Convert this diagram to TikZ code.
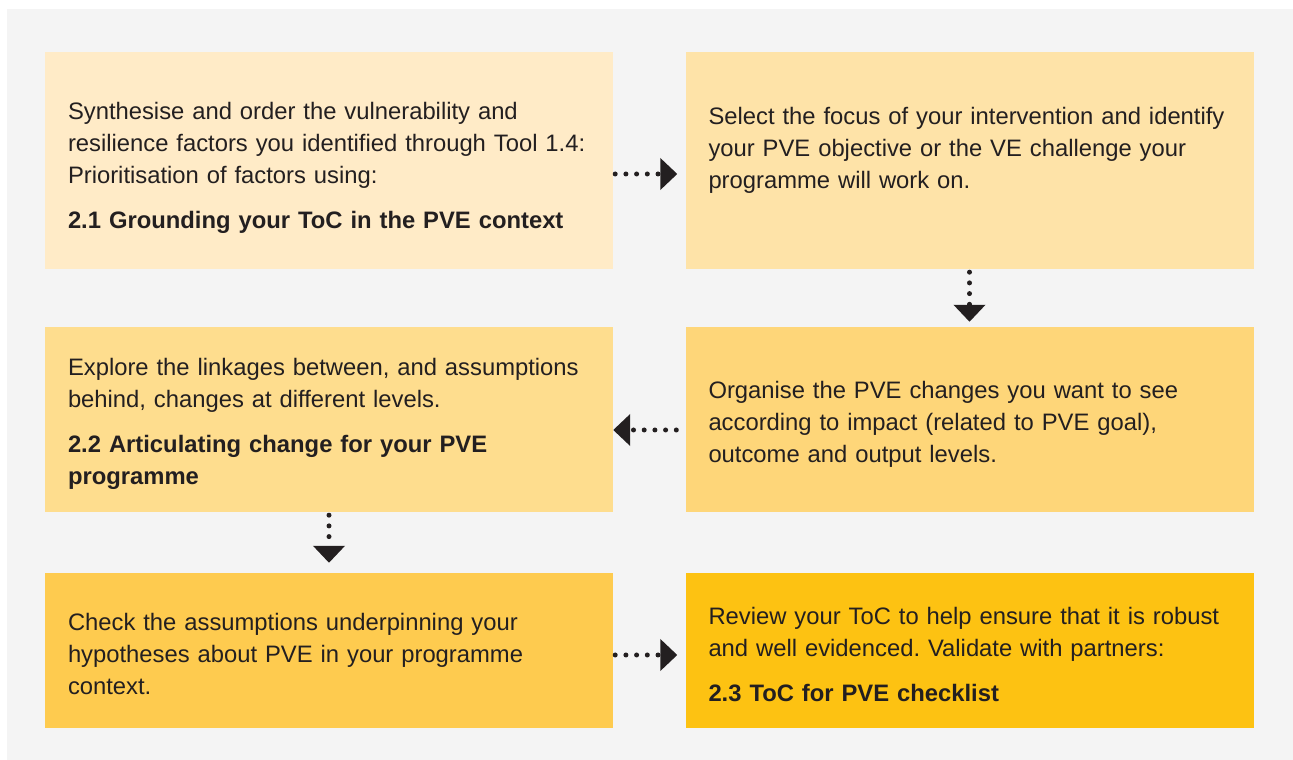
\documentclass[tikz,border=0pt]{standalone}
\usepackage{fontspec}
\setmainfont{Liberation Sans}
\frenchspacing
\usetikzlibrary{arrows.meta}
\definecolor{bggray}{HTML}{F4F4F4}
\definecolor{ink}{HTML}{231F20}
\definecolor{stepA}{HTML}{FFEBC7}
\definecolor{stepB}{HTML}{FEE3A8}
\definecolor{stepC}{HTML}{FEDD8E}
\definecolor{stepD}{HTML}{FED679}
\definecolor{stepE}{HTML}{FECB4F}
\definecolor{stepF}{HTML}{FDC212}
\begin{document}
\begin{tikzpicture}[x=1pt, y=1pt,
		stepbox/.style={rectangle, inner xsep=23pt, inner ysep=0pt, minimum width=568pt, text width=522pt, align=left, text=ink, font=\fontsize{23.8}{32}\selectfont},
		flow/.style={ink, line width=5pt, line cap=round, dash pattern=on 0pt off 10.7pt, -{Triangle[width=31pt, length=17pt]}}]
	\useasboundingbox (0,0) rectangle (1293,760);
	\fill[bggray] (7,0) rectangle (1293,751);
	\node[stepbox, fill=stepA, minimum height=217pt] (grounding) at (329,599.5) {\mbox{}\\[1pt]Synthesise and order the vulnerability and\\ resilience factors you identified through Tool 1.4:\\ Prioritisation of factors using:\\[13pt] \textbf{2.1 Grounding your ToC in the PVE context}};
	\node[stepbox, fill=stepB, minimum height=217pt] (focus) at (969.5,599.5) {Select the focus of your intervention and identify\\ your PVE objective or the VE challenge your\\ programme will work on.\\[-7pt]\mbox{}};
	\node[stepbox, fill=stepC, minimum height=185pt] (linkages) at (329,340.5) {\mbox{}\\[-5pt]Explore the linkages between, and assumptions\\ behind, changes at different levels.\\[13pt] \textbf{2.2 Articulating change for your PVE}\\ \textbf{programme}};
	\node[stepbox, fill=stepD, minimum height=185pt] (organise) at (969.5,340.5) {\mbox{}\\[-5pt]Organise the PVE changes you want to see\\ according to impact (related to PVE goal),\\ outcome and output levels.};
	\node[stepbox, fill=stepE, minimum height=155pt] (assume) at (329,109.5) {\mbox{}\\[-7pt]Check the assumptions underpinning your\\ hypotheses about PVE in your programme\\ context.};
	\node[stepbox, fill=stepF, minimum height=155pt] (review) at (969.5,109.5) {\mbox{}\\[-7pt]Review your ToC to help ensure that it is robust\\ and well evidenced. Validate with partners:\\[13pt] \textbf{2.3 ToC for PVE checklist}};
	% dotted arrows between the steps
	\draw[flow, shorten <=2pt, shorten >=8pt] ([yshift=-13.5pt]grounding.east) -- ([yshift=-13.5pt]focus.west);
	\draw[flow, shorten <=3pt, shorten >=5pt] (focus.south) -- (organise.north);
	\draw[flow, shorten <=9pt] ([yshift=-10.5pt]organise.west) -- ([yshift=-10.5pt]linkages.east);
	\draw[flow, shorten <=3pt, shorten >=10pt] (linkages.south) -- (assume.north);
	\draw[flow, shorten <=2pt, shorten >=8pt] ([yshift=-4.5pt]assume.east) -- ([yshift=-4.5pt]review.west);
\end{tikzpicture}
\end{document}
